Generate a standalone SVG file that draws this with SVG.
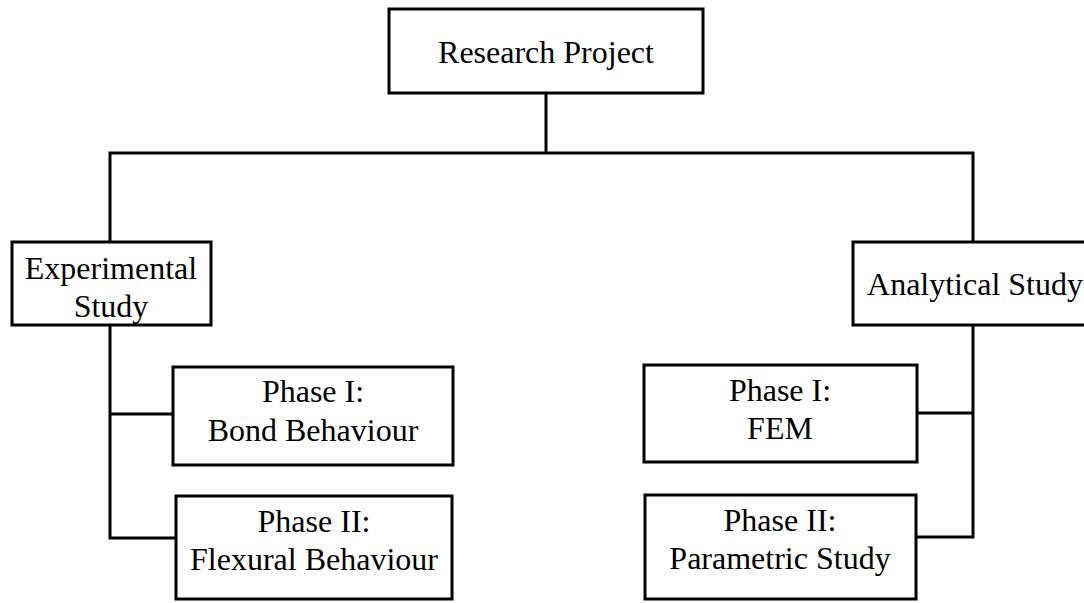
<svg xmlns="http://www.w3.org/2000/svg" width="1084" height="603" viewBox="0 0 1084 603">
<style>
.box{fill:#fff;stroke:#000;stroke-width:3}
.ln{fill:none;stroke:#000;stroke-width:3}
text{font-family:"Liberation Serif","Times New Roman",serif;font-size:32px;fill:#000;text-anchor:middle}
</style>
<rect width="1084" height="603" fill="#fff"/>
<g id="connectors">
<polyline class="ln" points="546,93 546,153"/>
<polyline class="ln" points="110,242 110,153 973,153 973,242"/>
<polyline class="ln" points="110,325 110,538 176,538"/>
<polyline class="ln" points="110,414 173,414"/>
<polyline class="ln" points="973,325 973,537 917,537"/>
<polyline class="ln" points="973,413 917,413"/>
</g>
<g id="research-project">
<rect class="box" x="389" y="9" width="314" height="84"/>
<text x="546" y="63">Research Project</text>
</g>
<g id="experimental-study">
<rect class="box" x="12" y="242" width="199" height="83"/>
<text x="111" y="279">Experimental</text>
<text x="111" y="317">Study</text>
</g>
<g id="analytical-study">
<rect class="box" x="853" y="242" width="244" height="83"/>
<text x="975" y="295">Analytical Study</text>
</g>
<g id="exp-phase1">
<rect class="box" x="173" y="367" width="280" height="98"/>
<text x="313" y="402">Phase I:</text>
<text x="313" y="441">Bond Behaviour</text>
</g>
<g id="exp-phase2">
<rect class="box" x="176" y="496" width="276" height="103"/>
<text x="314" y="532">Phase II:</text>
<text x="314" y="570">Flexural Behaviour</text>
</g>
<g id="ana-phase1">
<rect class="box" x="644" y="365" width="273" height="97"/>
<text x="780" y="401">Phase I:</text>
<text x="780" y="439">FEM</text>
</g>
<g id="ana-phase2">
<rect class="box" x="645" y="495" width="271" height="104"/>
<text x="780" y="531">Phase II:</text>
<text x="780" y="569">Parametric Study</text>
</g>
</svg>
